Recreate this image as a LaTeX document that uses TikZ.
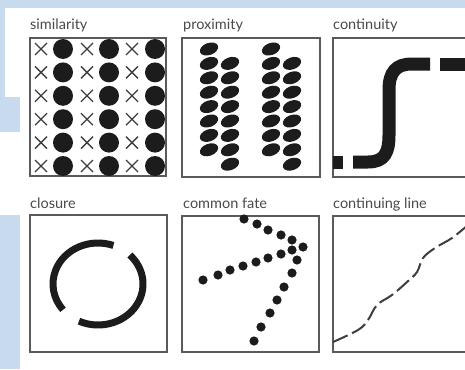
\documentclass[tikz,border=0pt]{standalone}
\usepackage{fontspec}
\setmainfont{Lato}
\definecolor{bgblue}{HTML}{C8DBEE}
\definecolor{ink}{HTML}{1C1C1C}
\definecolor{frame}{HTML}{5A5A5A}
\definecolor{labelc}{HTML}{4A4A4A}
\tikzset{
  panel/.style={draw=frame, line width=1.3pt},
  lbl/.style={anchor=base west, inner sep=0pt, text=labelc, font=\fontsize{14.5}{16}\selectfont},
  xmark/.style={draw=ink!85, line width=1.3pt},
  dotfill/.style={fill=ink},
  thick path/.style={draw=ink, line width=13pt},
  dashline/.style={draw=ink!85, line width=2pt, dash pattern=on 16pt off 5pt, line cap=butt}
}
\begin{document}
\begin{tikzpicture}[x=1pt,y=-1pt]
\useasboundingbox (0,0) rectangle (465,369);
% background
\fill[bgblue] (0,0) rectangle (465,369);
\fill[white] (20,8) rectangle (465,369);
\fill[white] (5,8) rectangle (97,97);
\fill[white] (0,132) rectangle (20,215);

% labels
\node[lbl] (l1) at (30,30) {similarity};
\node[lbl] (l2) at (183,30) {proximity};
\node[lbl] (l3) at (333,30) {continuity};
\node[lbl] (l4) at (30,208) {closure};
\node[lbl] (l5) at (183,208) {common fate};
\node[lbl] (l6) at (333,208) {continuing line};

% panels
\draw[panel] (30,38) rectangle (166,176);
\draw[panel] (182,38) rectangle (320,177);
\draw[panel] (333,38) rectangle (470,177);
\draw[panel] (30,215) rectangle (167,352);
\draw[panel] (182,216) rectangle (319,352);
\draw[panel] (333,216) rectangle (470,352);

% similarity
\foreach \r in {0,...,5}{
  \pgfmathsetmacro{\yy}{49+23.4*\r}
  \foreach \xx in {41,87,132}{
    \draw[xmark] (\xx-6,\yy-6) -- (\xx+6,\yy+6) (\xx-6,\yy+6) -- (\xx+6,\yy-6);
  }
  \foreach \xx in {63,109,155}{
    \fill[dotfill] (\xx,\yy) circle (10);
  }
}

% proximity
\foreach \r in {0,...,7}{
  \pgfmathsetmacro{\ya}{49+14.4*\r}
  \pgfmathsetmacro{\yb}{63.4+14.4*\r}
  \foreach \xx in {209,271}{
    \fill[dotfill, shift={(\xx,\ya)}, rotate=20] (0,0) ellipse (9.5 and 6);
  }
  \foreach \xx in {230,292}{
    \fill[dotfill, shift={(\xx,\yb)}, rotate=20] (0,0) ellipse (9.5 and 6);
  }
}

% continuity
\begin{scope}
\clip (333,38) rectangle (465,177);
\draw[thick path] (333,162) -- (343,162);
\draw[thick path] (353,162) -- (368,162) .. controls (385,162) and (389,152) .. (389,135) -- (389,90) .. controls (389,72) and (396,64) .. (412,64) -- (430,64);
\draw[thick path] (440,64) -- (470,64);
\end{scope}

% closure
\draw[draw=ink, line width=7pt] (98,284) ++(-70:45 and 41) arc[start angle=-70, end angle=-219, x radius=45, y radius=41];
\draw[draw=ink, line width=7pt] (98,284) ++(-245:45 and 41) arc[start angle=-245, end angle=-405, x radius=45, y radius=41];

% common fate
\foreach \p in {(203,280),(218,275),(230,270),(243,266),(256,262),(268,258),(281,254),(292,250),(303,247),
                (244,219),(257,224),(268,230),(281,235),(292,240),
                (297,260),(292,273),(284,287),(277,300),(270,313),(261,327),(254,341)}{
  \fill[dotfill] \p circle (4.6);
}

% continuing line
\begin{scope}
\clip (333,216) rectangle (465,352);
\draw[dashline] plot[smooth, tension=0.6] coordinates {(333,342) (358,330) (368,320) (377,305) (392,295) (407,282) (417,272) (423,258) (435,248) (452,238) (468,225)};
\end{scope}
\end{tikzpicture}
\end{document}
